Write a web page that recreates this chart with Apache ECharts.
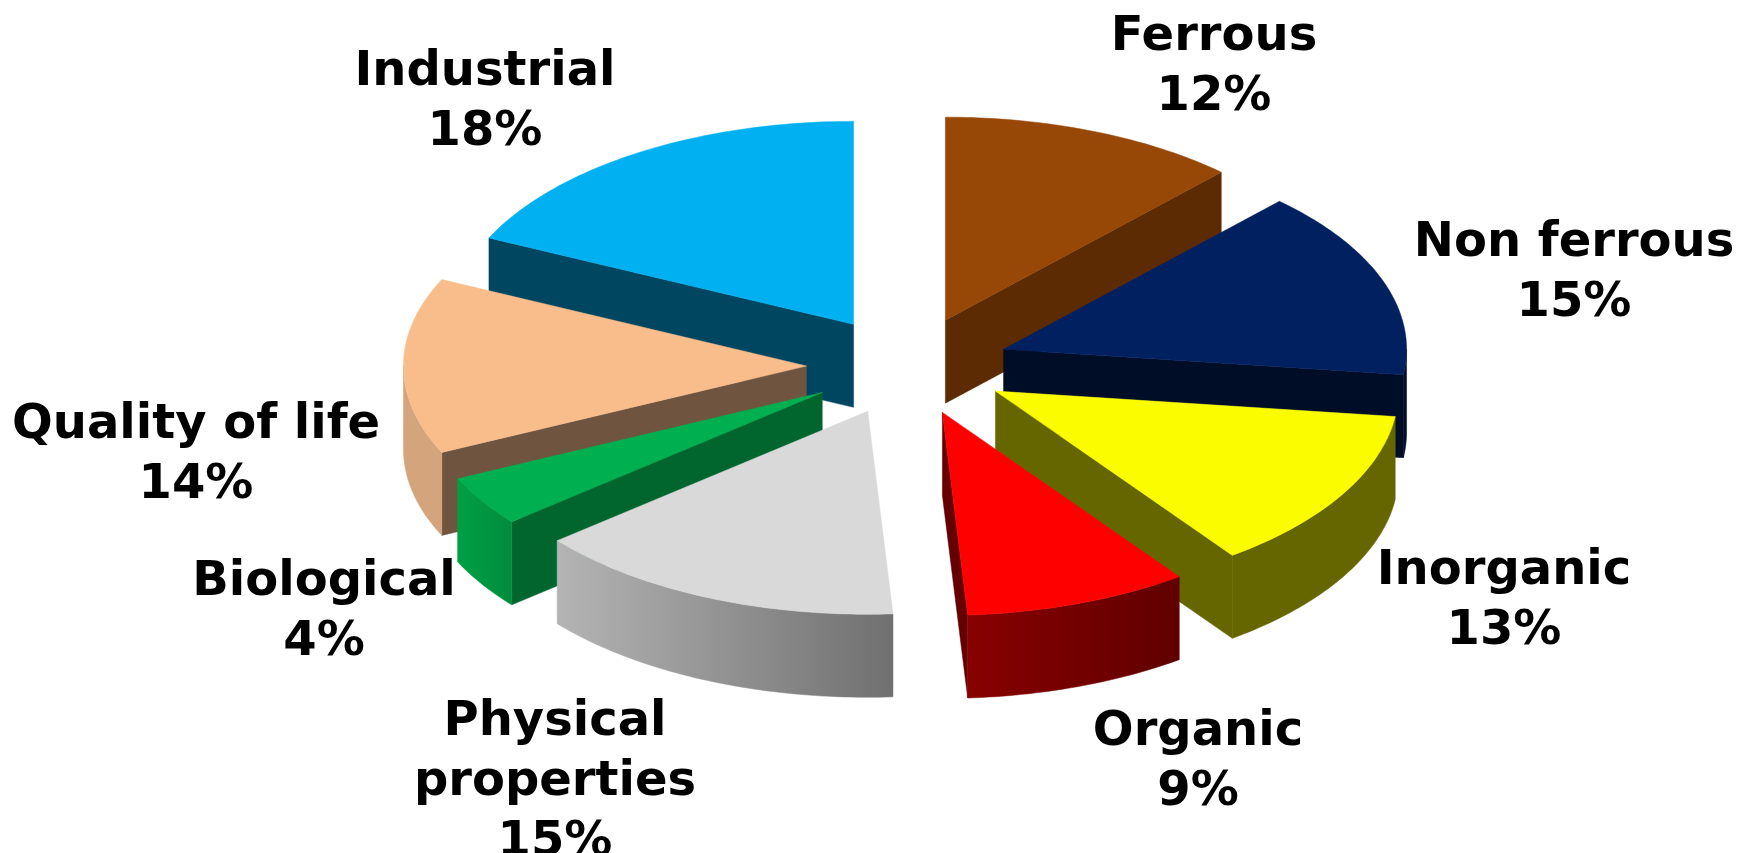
<!DOCTYPE html>
<html>
<head>
<meta charset="utf-8">
<title>Exploded 3D pie</title>
<script src="https://cdn.jsdelivr.net/npm/echarts@6/dist/echarts.min.js"></script>
<style>
  html, body { margin: 0; padding: 0; background: #fff; }
  #chart { width: 1741px; height: 853px; }
</style>
</head>
<body>
<div id="chart"></div>
<script>
// slices, clockwise from 12 o'clock
const categories = ['Ferrous', 'Non ferrous', 'Inorganic', 'Organic', 'Physical\nproperties', 'Biological', 'Quality of life', 'Industrial'];
const shares = [12, 15, 13, 9, 15, 4, 14, 18];

const topColors = ['#974706', '#002060', '#fcfc00', '#ff0000', '#d9d9d9', '#00b050', '#f8bd8b', '#00b0f0'];
const radialColors = ['#5c2b04', '#000d26', '#666600', '#660000', '#6e6e6e', '#00662e', '#6f5440', '#004660'];
const outerFrom = ['#5c2b04', '#000d26', '#666600', '#880000', '#b4b4b4', '#00a045', '#d4a47c', '#004660'];
const outerTo = ['#5c2b04', '#000d26', '#666600', '#600000', '#707070', '#008c3c', '#d4a47c', '#004660'];

// label centres in pixels
const labelX = [1214, 1574, 1504, 1198, 555, 324, 196, 485];
const labelY = [68, 274, 602, 763, 783, 613, 456, 103];

// pie geometry
const CX = 908, CY = 366;
const RX = 403, RY = 203;
const DEPTH = 83;
const EXPLODE_X = 0.252, EXPLODE_Y = 0.243;
const FONT_SIZE = 48;

const total = shares.reduce((a, b) => a + b, 0);
const rad = deg => deg * Math.PI / 180;

function rimPoint(ox, oy, deg, drop) {
    return [ox + RX * Math.sin(rad(deg)), oy - RY * Math.cos(rad(deg)) + drop];
}

function arc(ox, oy, from, to, drop) {
    const pts = [];
    const steps = Math.max(2, Math.ceil(to - from));
    for (let i = 0; i <= steps; i++) {
        pts.push(rimPoint(ox, oy, from + (to - from) * i / steps, drop));
    }
    return pts;
}

function renderSlice(params, api) {
    const i = params.dataIndex;
    const value = api.value(0);
    const before = shares.slice(0, i).reduce((a, b) => a + b, 0);
    const start = before / total * 360;
    const end = start + value / total * 360;
    const mid = (start + end) / 2;

    // exploded apex of this slice
    const ox = CX + RX * EXPLODE_X * Math.sin(rad(mid));
    const oy = CY - RY * EXPLODE_Y * Math.cos(rad(mid));

    // nearer slices are painted later
    const z2 = Math.round(-Math.cos(rad(mid)) * 100);
    const children = [];

    function addPolygon(points, fill) {
        children.push({
            type: 'polygon',
            z2: z2,
            shape: { points: points },
            style: { fill: fill, stroke: fill, lineWidth: 0.5 }
        });
    }

    function addRadialWall(deg) {
        const rim = rimPoint(ox, oy, deg, 0);
        addPolygon([[ox, oy], rim, [rim[0], rim[1] + DEPTH], [ox, oy + DEPTH]], radialColors[i]);
    }

    if (Math.sin(rad(start)) < -0.001) addRadialWall(start);
    if (Math.sin(rad(end)) > 0.001) addRadialWall(end);

    // outer wall faces the viewer between 90 and 270 degrees
    const wallFrom = Math.max(start, 90);
    const wallTo = Math.min(end, 270);
    if (wallTo > wallFrom) {
        const upper = arc(ox, oy, wallFrom, wallTo, 0);
        const lower = arc(ox, oy, wallFrom, wallTo, DEPTH).reverse();
        addPolygon(upper.concat(lower), new echarts.graphic.LinearGradient(0, 0, 1, 0, [
            { offset: 0, color: outerFrom[i] },
            { offset: 1, color: outerTo[i] }
        ]));
    }

    addPolygon([[ox, oy]].concat(arc(ox, oy, start, end, 0)), topColors[i]);

    children.push({
        type: 'text',
        z2: 200,
        style: {
            x: labelX[i],
            y: labelY[i],
            text: categories[i] + '\n' + value + '%',
            fill: '#000',
            font: 'bold ' + FONT_SIZE + 'px "DejaVu Sans"',
            lineHeight: 60,
            align: 'center',
            verticalAlign: 'middle'
        }
    });

    return { type: 'group', children: children };
}

const myChart = echarts.init(document.getElementById('chart'));
myChart.setOption({
    backgroundColor: '#fff',
    animation: false,
    series: [{
        type: 'custom',
        coordinateSystem: 'none',
        silent: true,
        clip: false,
        renderItem: renderSlice,
        data: shares.map(v => [v])
    }]
});
</script>
</body>
</html>
